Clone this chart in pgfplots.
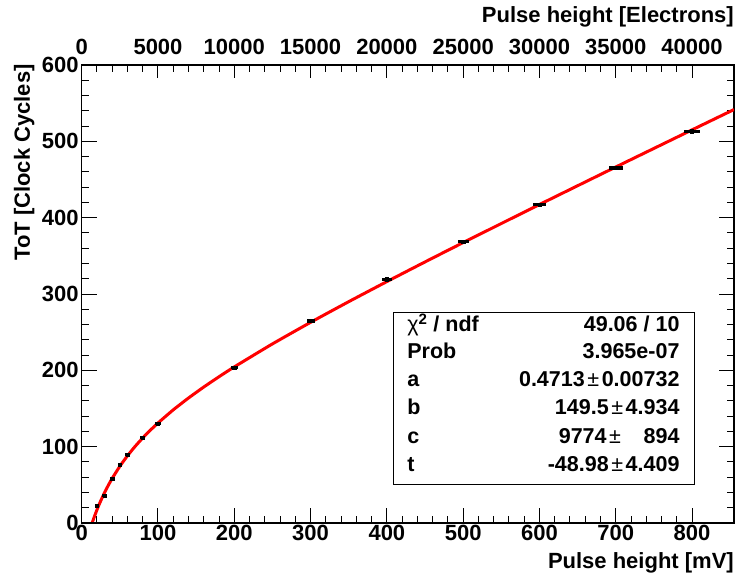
\documentclass[border=0pt]{standalone}
\usepackage{pgfplots}
\pgfplotsset{compat=1.18}
\usepackage{fontspec}
\setmainfont{Liberation Sans}
\newcommand{\bigf}{\fontsize{22}{22}\selectfont\bfseries}
\newcommand{\statf}{\fontsize{21.5}{21.5}\selectfont\bfseries}
\newcommand{\pmx}{\hspace{0.12em}{\mdseries ±}\hspace{0.12em}}

\pgfplotstableread{
x y ex
20 22.3 2.7
30 35.7 2.8
40 58 2.9
50 76 3.0
60 89.4 3.1
80 111.7 3.3
100 130 3.5
200 203.5 4.5
300 264.6 5.3
400 319.3 6.2
500 368.5 7.1
600 417.5 8.0
700 465.1 9.0
800 513.2 10.4
}\datatab

\pgfplotstableread{
x y
13.7 0.0
15 3.80
17.5 10.73
20 17.24
22.5 23.36
25 29.16
30 39.89
35 49.61
40 58.51
50 74.32
60 88.09
70 100.34
80 111.43
90 121.59
100 131.02
120 148.22
140 163.76
160 178.14
180 191.65
200 204.50
250 234.63
300 262.88
350 289.96
400 316.25
450 342.0
500 367.35
600 417.22
700 466.36
800 515.03
855 541.65
}\fittab

\begin{document}
\begin{tikzpicture}
\useasboundingbox (-81.7pt,-58pt) rectangle (657.3pt,523pt);
\begin{axis}[
  at={(0pt,0pt)}, anchor=south west,
  scale only axis, width=652.3pt, height=458pt,
  xmin=0, xmax=855, ymin=0, ymax=600,
  xtick={0,100,...,800}, ytick={0,100,...,600},
  minor x tick num=4, minor y tick num=4,
  xtick pos=lower, xticklabel pos=lower,
  ytick pos=both, yticklabel pos=lower,
  tick align=inside,
  major tick length=15pt, minor tick length=7.5pt,
  tick style={black, line width=1pt},
  axis line style={line width=1.1pt},
  tick label style={font=\bigf},
  /pgf/number format/assume math mode=true,
  xticklabel style={inner sep=2pt},
  yticklabel style={inner sep=3pt},
]
\addplot[red, line width=3pt, smooth, tension=0.3, no markers] table[x=x,y=y]{\fittab};
\addplot[black, only marks, mark=square*, mark size=1.6pt,
  error bars/.cd, x dir=both, x explicit, error mark=none,
  error bar style={line width=3.3pt, black}]
  table[x=x, y=y, x error=ex]{\datatab};
\draw[line width=1pt, fill=white] (axis cs:409.1,49.8) rectangle (axis cs:803.5,276.4);
\node[anchor=base west, inner sep=0, font=\statf] at (axis cs:426.6,250.6) {{\mdseries χ}\textsuperscript{2} / ndf};
\node[anchor=base west, inner sep=0, font=\statf] at (axis cs:426.6,215.7) {Prob};
\node[anchor=base west, inner sep=0, font=\statf] at (axis cs:426.6,178.5) {a};
\node[anchor=base west, inner sep=0, font=\statf] at (axis cs:426.6,141.5) {b};
\node[anchor=base west, inner sep=0, font=\statf] at (axis cs:426.6,104.4) {c};
\node[anchor=base west, inner sep=0, font=\statf] at (axis cs:426.6,67.2) {t};
\node[anchor=base east, inner sep=0, font=\statf] at (axis cs:783.8,250.6) {49.06 / 10};
\node[anchor=base east, inner sep=0, font=\statf] at (axis cs:783.8,215.7) {3.965e-07};
\node[anchor=base east, inner sep=0, font=\statf] at (axis cs:783.8,178.5) {0.4713\pmx 0.00732};
\node[anchor=base east, inner sep=0, font=\statf] at (axis cs:783.8,141.5) {149.5\pmx 4.934};
\node[anchor=base east, inner sep=0, font=\statf] at (axis cs:783.8,104.4) {9774\pmx\hspace{20pt}894};
\node[anchor=base east, inner sep=0, font=\statf] at (axis cs:783.8,67.2) {-48.98\pmx 4.409};
\end{axis}
\begin{axis}[
  at={(0pt,0pt)}, anchor=south west,
  scale only axis, width=652.3pt, height=458pt,
  xmin=0, xmax=42750, ymin=0, ymax=600,
  hide y axis,
  xtick={0,5000,...,40000}, minor x tick num=4,
  xtick pos=upper, xticklabel pos=upper,
  scaled x ticks=false,
  tick align=inside,
  major tick length=13pt, minor tick length=7pt,
  tick style={black, line width=1pt},
  axis line style={line width=1.1pt},
  tick label style={font=\bigf},
  /pgf/number format/assume math mode=true,
  /pgf/number format/1000 sep={},
  xticklabel style={inner sep=10pt},
]
\addplot[draw=none] coordinates {(0,0)};
\end{axis}
\node[font=\bigf, anchor=base east, inner sep=0] at (652.3pt,-45.7pt) {Pulse height [mV]};
\node[font=\bigf, anchor=base east, inner sep=0] at (652.3pt,500.5pt) {Pulse height [Electrons]};
\node[font=\bigf, anchor=base east, inner sep=0, rotate=90] at (-51.7pt,459pt) {ToT [Clock Cycles]};
\end{tikzpicture}
\end{document}
